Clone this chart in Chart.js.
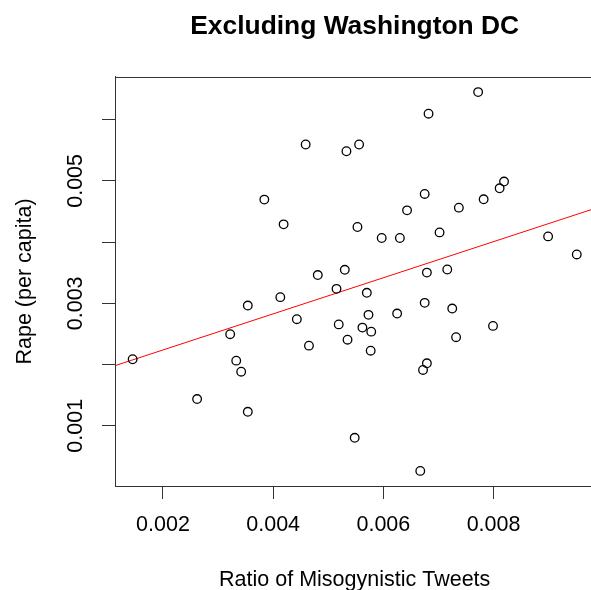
<!DOCTYPE html>
<html>
<head>
<meta charset="utf-8">
<title>Excluding Washington DC</title>
<script src="https://cdn.jsdelivr.net/npm/chart.js@4"></script>
<style>
  html, body { margin: 0; padding: 0; overflow: hidden; background: #fff; }
  canvas { display: block; }
</style>
</head>
<body>
<canvas id="myChart" width="600" height="600"></canvas>
<script>
// one point per state, Washington DC left out
const tweetRatio = [0.00459, 0.00533, 0.00556, 0.00384, 0.00419, 0.00481, 0.00530, 0.00772, 0.00682, 0.00819,
                    0.00811, 0.00675, 0.00782, 0.00737, 0.00643, 0.00553, 0.00597, 0.00630, 0.00702, 0.00899,
                    0.00951, 0.00679, 0.00716, 0.00515, 0.00413, 0.00354, 0.00443, 0.00322, 0.00519, 0.00535,
                    0.00465, 0.00145, 0.00333, 0.00342, 0.00262, 0.00354, 0.00570, 0.00675, 0.00725, 0.00573,
                    0.00625, 0.00562, 0.00578, 0.00732, 0.00799, 0.00577, 0.00679, 0.00672, 0.00548, 0.00667];
const rapeRate = [0.005594, 0.005484, 0.005594, 0.004694, 0.004290, 0.003462, 0.003548, 0.006450, 0.006097, 0.004989,
                  0.004879, 0.004787, 0.004699, 0.004563, 0.004519, 0.004247, 0.004067, 0.004067, 0.004159, 0.004093,
                  0.003799, 0.003502, 0.003553, 0.003237, 0.003101, 0.002964, 0.002741, 0.002496, 0.002656, 0.002406,
                  0.002309, 0.002087, 0.002064, 0.001884, 0.001437, 0.001229, 0.003172, 0.003008, 0.002915, 0.002812,
                  0.002833, 0.002604, 0.002538, 0.002447, 0.002632, 0.002227, 0.002021, 0.001912, 0.000804, 0.000264];

const xTicks = [0.002, 0.004, 0.006, 0.008];
const xTickLabels = ["0.002", "0.004", "0.006", "0.008"];
const yTicks = [0.001, 0.002, 0.003, 0.004, 0.005, 0.006];
const yTickLabels = ["0.001", "", "0.003", "", "0.005", ""];

const xMin = 0.00113, xMax = 0.00983;
const yMin = 0.000017, yMax = 0.006697;

// least squares line, like abline(lm(y ~ x)) in R
function fitLine(xs, ys) {
  var n = xs.length;
  var mx = xs.reduce((a, b) => a + b, 0) / n;
  var my = ys.reduce((a, b) => a + b, 0) / n;
  var sxy = 0, sxx = 0;
  for (let i = 0; i < n; i++) {
    sxy += (xs[i] - mx) * (ys[i] - my);
    sxx += (xs[i] - mx) * (xs[i] - mx);
  }
  var slope = sxy / sxx;
  return {slope: slope, intercept: my - slope * mx};
}

const fit = fitLine(tweetRatio, rapeRate);
const points = tweetRatio.map((x, i) => ({x: x, y: rapeRate[i]}));
const fitPoints = [xMin, xMax].map(x => ({x: x, y: fit.intercept + fit.slope * x}));

const boxPlugin = {
  id: 'box',
  afterDatasetsDraw(chart) {
    const ctx = chart.ctx, a = chart.chartArea;
    ctx.save();
    ctx.strokeStyle = '#333';
    ctx.lineWidth = 1;
    ctx.strokeRect(a.left + 0.5, a.top + 0.5, a.right - a.left, a.bottom - a.top);
    ctx.restore();
  }
};

const font = "'Liberation Sans', Arial, sans-serif";

new Chart("myChart", {
  type: "scatter",
  data: {
    datasets: [{
      data: points,
      pointRadius: 4.3,
      pointBorderWidth: 1.3,
      pointBorderColor: "#000",
      pointBackgroundColor: "rgba(0,0,0,0)"
    }, {
      data: fitPoints,
      showLine: true,
      pointRadius: 0,
      borderColor: "#ff0000",
      borderWidth: 1
    }]
  },
  options: {
    responsive: false,
    animation: false,
    devicePixelRatio: 1,
    layout: {padding: {left: 0, right: 5, top: 0, bottom: 0}},
    plugins: {
      legend: {display: false},
      tooltip: {enabled: false},
      title: {
        display: true,
        text: "Excluding Washington DC",
        fullSize: false,
        color: "#000",
        font: {family: font, size: 26.4, weight: "bold", lineHeight: 1.2},
        padding: {top: 10.5, bottom: 34.8}
      }
    },
    scales: {
      x: {
        type: "linear",
        min: xMin,
        max: xMax,
        afterBuildTicks: scale => { scale.ticks = xTicks.map(v => ({value: v})); },
        afterFit: scale => { scale.height = 114; },
        ticks: {
          callback: (value, index) => xTickLabels[index],
          color: "#000",
          padding: 13.4,
          maxRotation: 0,
          font: {family: font, size: 21.5, lineHeight: 1.2}
        },
        grid: {drawOnChartArea: false, drawTicks: true, tickLength: 13, color: "#333", lineWidth: 1},
        border: {color: "#333", width: 1},
        title: {
          display: true,
          text: "Ratio of Misogynistic Tweets",
          color: "#000",
          font: {family: font, size: 21.5, lineHeight: 1.2},
          padding: {top: 0, bottom: 7.2}
        }
      },
      y: {
        type: "linear",
        min: yMin,
        max: yMax,
        afterBuildTicks: scale => { scale.ticks = yTicks.map(v => ({value: v})); },
        afterFit: scale => { scale.width = 115; },
        ticks: {
          callback: (value, index) => yTickLabels[index],
          color: "#000",
          padding: -1,
          minRotation: 90,
          maxRotation: 90,
          crossAlign: "center",
          font: {family: font, size: 21.5, lineHeight: 1.2}
        },
        grid: {drawOnChartArea: false, drawTicks: true, tickLength: 13, color: "#333", lineWidth: 1},
        border: {color: "#333", width: 1},
        title: {
          display: true,
          text: "Rape (per capita)",
          color: "#000",
          font: {family: font, size: 21.5, lineHeight: 1.2},
          padding: {top: 11.9, bottom: 0}
        }
      }
    }
  },
  plugins: [boxPlugin]
});
</script>
</body>
</html>
